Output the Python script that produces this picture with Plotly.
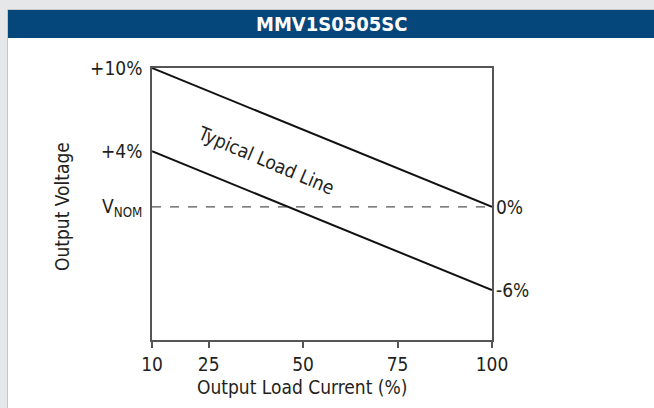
import plotly.graph_objects as go

# ---- data ----
load_pct = [10, 100]
upper_line = [10, 0]      # +10% at 10% load -> 0% at 100% load
lower_line = [4, -6]      # +4% at 10% load -> -6% at 100% load
vnom_line = [0, 0]
x_ticks = [10, 25, 50, 75, 100]
y_tickvals = [10, 4, 0]
y_ticktext = ["+10%", "+4%", "V<sub>NOM</sub>"]
title_text = "MMV1S0505SC"

W, H = 654, 408
L, R, T, B = 152, 162, 68, 68
PW, PH = W - L - R, H - T - B

def px(x):
    return (x - L) / PW

def py(y):
    return (H - B - y) / PH

FONT = "Liberation Sans Narrow, Arial Narrow, DejaVu Sans Condensed, sans-serif"
TXT = "#231f20"

fig = go.Figure()
fig.add_trace(go.Scatter(x=load_pct, y=vnom_line, mode="lines",
                         line=dict(color="#555555", width=1.2, dash="dash"),
                         hoverinfo="skip", cliponaxis=False))
fig.add_trace(go.Scatter(x=load_pct, y=upper_line, mode="lines",
                         line=dict(color="#111111", width=2),
                         hoverinfo="skip", cliponaxis=False))
fig.add_trace(go.Scatter(x=load_pct, y=lower_line, mode="lines",
                         line=dict(color="#111111", width=2),
                         hoverinfo="skip", cliponaxis=False))

shapes = [
    dict(type="rect", xref="paper", yref="paper", layer="below",
         x0=px(7.5), x1=px(W + 5), y0=py(9.5), y1=py(H + 5),
         fillcolor="white", line=dict(color="#c4c6c8", width=1)),
    dict(type="rect", xref="paper", yref="paper", layer="below",
         x0=px(8), x1=px(W + 5), y0=py(10), y1=py(38),
         fillcolor="#06477b", line=dict(width=0)),
]

def ann(text, x, y, size=19, color=TXT, angle=0):
    return dict(text=text, xref="paper", yref="paper", x=px(x), y=py(y),
                xanchor="center", yanchor="middle", showarrow=False,
                textangle=angle, font=dict(family=FONT, size=size, color=color))

annotations = [
    ann("<b>" + title_text + "</b>", 331, 24, size=20, color="white"),
    ann("Output Voltage", 62, 207, angle=-90),
    ann("Output Load Current (%)", 302, 387),
    ann("Typical Load Line", 266, 160, angle=23),
    dict(text="0%", x=load_pct[-1], y=upper_line[-1], xref="x", yref="y",
         showarrow=False, xanchor="left", yanchor="middle", xshift=2,
         font=dict(family=FONT, size=19, color=TXT)),
    dict(text="-6%", x=load_pct[-1], y=lower_line[-1], xref="x", yref="y",
         showarrow=False, xanchor="left", yanchor="middle", xshift=2,
         font=dict(family=FONT, size=19, color=TXT)),
]

fig.update_layout(
    width=W, height=H,
    margin=dict(l=L, r=R, t=T, b=B, pad=0, autoexpand=False),
    paper_bgcolor="#e6e7e8",
    plot_bgcolor="rgba(0,0,0,0)",
    showlegend=False,
    shapes=shapes,
    annotations=annotations,
    xaxis=dict(range=[10, 100], tickvals=x_ticks, showgrid=False, zeroline=False,
               showline=True, mirror=True, linecolor="#555555", linewidth=1.5,
               ticks="outside", ticklen=6, tickwidth=1.5, tickcolor="#555555",
               tickfont=dict(family=FONT, size=19, color=TXT)),
    yaxis=dict(range=[10 - PH / 13.88, 10], tickvals=y_tickvals, ticktext=y_ticktext,
               showgrid=False, zeroline=False,
               showline=True, mirror=True, linecolor="#555555", linewidth=1.5,
               ticks="", ticklabelstandoff=4,
               tickfont=dict(family=FONT, size=19, color=TXT)),
)

fig.write_html("out.html", config={"displayModeBar": False},
               post_script="document.body.style.margin='0';document.body.style.padding='0';document.body.style.overflow='hidden';")
